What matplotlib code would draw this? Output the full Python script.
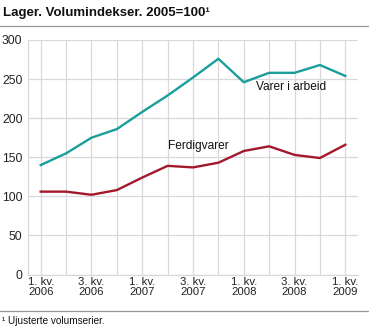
import matplotlib
matplotlib.use("Agg")
import matplotlib.pyplot as plt
import matplotlib.transforms as mtransforms

plt.rcParams['font.family'] = ['Liberation Sans', 'DejaVu Sans']

quarters = ["1. kv.\n2006", "2. kv.\n2006", "3. kv.\n2006", "4. kv.\n2006",
            "1. kv.\n2007", "2. kv.\n2007", "3. kv.\n2007", "4. kv.\n2007",
            "1. kv.\n2008", "2. kv.\n2008", "3. kv.\n2008", "4. kv.\n2008",
            "1. kv.\n2009"]
varer_i_arbeid = [140, 155, 175, 186, 208, 229, 252, 276, 246, 258, 258, 268, 254]
ferdigvarer = [106, 106, 102, 108, 124, 139, 137, 143, 158, 164, 153, 149, 166]
yticks = [0, 50, 100, 150, 200, 250, 300]

teal = '#1a9e9b'
red = '#a3182a'
grid = '#d9d9dc'

fig = plt.figure(figsize=(3.69, 3.26), dpi=100)
ax = fig.add_axes([28/369, 1-274.5/326, 330/369, 234.5/326])

x = list(range(len(quarters)))
ax.plot(x, varer_i_arbeid, color=teal, lw=1.7, solid_joinstyle='round', zorder=3)
ax.plot(x, ferdigvarer, color=red, lw=1.7, solid_joinstyle='round', zorder=3)

ax.set_xlim(-0.5, len(quarters) - 0.5)
ax.set_ylim(0, 300)
ax.set_yticks(yticks)
ax.set_yticklabels([str(v) for v in yticks], fontsize=8.8, color='#222222')
ax.set_xticks(x)
ax.set_xticklabels([q if i % 2 == 0 else '' for i, q in enumerate(quarters)],
                   fontsize=8.2, color='#222222', linespacing=0.95)
offset = mtransforms.ScaledTranslation(-4/100, 0, fig.dpi_scale_trans)
for lab in ax.get_xticklabels():
    lab.set_transform(lab.get_transform() + offset)

ax.tick_params(axis='y', length=0, pad=4)
ax.tick_params(axis='x', length=0, pad=2)
ax.grid(True, color=grid, lw=0.9)
ax.set_axisbelow(True)
for s in ['top', 'right']:
    ax.spines[s].set_visible(False)
for s in ['left', 'bottom']:
    ax.spines[s].set_color(grid)
    ax.spines[s].set_linewidth(0.9)

ax.text(8.47, 240, "Varer i arbeid", fontsize=8.6, ha='left', va='center', color='#111111')
ax.text(5.03, 164, "Ferdigvarer", fontsize=8.6, ha='left', va='center', color='#111111')

fig.text(3/369, 1-12.7/326, "Lager. Volumindekser. 2005=100¹", fontsize=9.5,
         fontweight='bold', ha='left', va='center', color='#111111')
fig.add_artist(plt.Line2D([0, 1], [1-26/326, 1-26/326], color='#9a9a9a', lw=0.9,
                          transform=fig.transFigure))
fig.add_artist(plt.Line2D([0, 1], [1-310.5/326, 1-310.5/326], color='#9a9a9a', lw=0.9,
                          transform=fig.transFigure))
fig.text(2/369, 1-320.5/326, "¹ Ujusterte volumserier.", fontsize=7.2, ha='left',
         va='center', color='#111111')

fig.savefig("out.png", dpi=100)
